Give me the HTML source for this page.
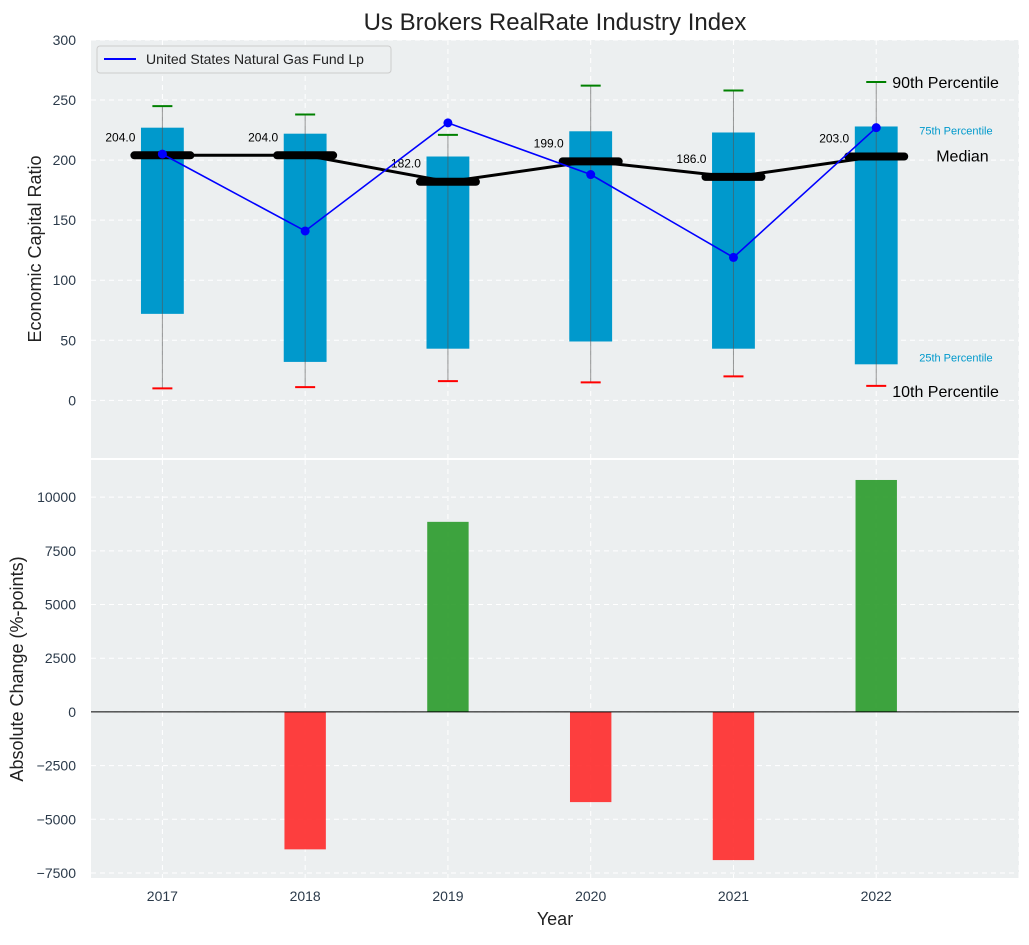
<!DOCTYPE html>
<html><head><meta charset="utf-8"><style>
body{margin:0;background:#fff;font-family:"Liberation Sans",sans-serif}
</style></head><body>
<svg id="c" width="1029" height="940" xmlns="http://www.w3.org/2000/svg" font-family="Liberation Sans, sans-serif"></svg>
<script>
const years=[2017,2018,2019,2020,2021,2022];
const p10=[10,11,16,15,20,12];
const p25=[72,32,43,49,43,30];
const median=[204,204,182,199,186,203];
const p75=[227,222,203,224,223,228];
const p90=[245,238,221,262,258,265];
const fund=[205,141,231,188,119,227];
const change=[0,-6400,8850,-4200,-6900,10800];
const yTicksTop=[0,50,100,150,200,250,300];
const yTicksBot=[-7500,-5000,-2500,0,2500,5000,7500,10000];

const L=91,R=1019;
const X=v=>L+(v-2016.5)/(2023.0-2016.5)*(R-L);
const T0=40,T1=458,Yt=v=>T0+(300-v)/(300-(-48))*(T1-T0);
const B0=460,B1=878,Yb=v=>B0+(11730-v)/(11730-(-7734))*(B1-B0);
const svg=document.getElementById('c');const NS='http://www.w3.org/2000/svg';
function mk(tag,a,parent){const e=document.createElementNS(NS,tag);for(const k in a)e.setAttribute(k,a[k]);(parent||svg).appendChild(e);return e;}
function tx(s,a){const e=mk('text',a);e.textContent=s;return e;}

let e=mk('rect',{x:L,y:T0,width:R-L,height:T1-T0,fill:'#eceff0'});


e=mk('rect',{x:L,y:B0,width:R-L,height:B1-B0,fill:'#eceff0'});


const g={stroke:'#fff','stroke-dasharray':'5,4','stroke-width':1};
years.concat([2023]).forEach(y=>{mk('line',Object.assign({x1:X(y),x2:X(y),y1:T0,y2:T1},g));mk('line',Object.assign({x1:X(y),x2:X(y),y1:B0,y2:B1},g));});
yTicksTop.forEach(v=>{mk('line',Object.assign({x1:L,x2:R,y1:Yt(v),y2:Yt(v)},g));
 e=tx(v,{x:L-15,y:Yt(v)+5,'text-anchor':'end','font-size':14,fill:'#2b3a4a'});
 
 });
yTicksBot.forEach(v=>{mk('line',Object.assign({x1:L,x2:R,y1:Yb(v),y2:Yb(v)},g));
 e=tx(v===0?'0':(v<0?'−'+(-v):v),{x:L-15,y:Yb(v)+5,'text-anchor':'end','font-size':14,fill:'#2b3a4a'});
 
 });
years.forEach(y=>{e=tx(y,{x:X(y),y:B1+23,'text-anchor':'middle','font-size':14,fill:'#2b3a4a'});
 
 });

const hw=0.15*(X(1)-X(0));
years.forEach((y,i)=>{
 const cx=X(y);
 e=mk('rect',{x:cx-hw,y:Yt(p75[i]),width:2*hw,height:Yt(p25[i])-Yt(p75[i]),fill:'#0099cc'});
 
 
 mk('line',{x1:cx,x2:cx,y1:Yt(p90[i]),y2:Yt(p10[i]),stroke:'#555',opacity:0.6,'stroke-width':1});
 mk('line',{x1:cx-10,x2:cx+10,y1:Yt(p90[i]),y2:Yt(p90[i]),stroke:'green','stroke-width':2});
 mk('line',{x1:cx-10,x2:cx+10,y1:Yt(p10[i]),y2:Yt(p10[i]),stroke:'red','stroke-width':2});
});
e=mk('polyline',{points:years.map((y,i)=>X(y)+','+Yt(median[i])).join(' '),fill:'none',stroke:'#000','stroke-width':3});


years.forEach((y,i)=>{
 e=mk('line',{x1:X(y)-28,x2:X(y)+28,y1:Yt(median[i]),y2:Yt(median[i]),stroke:'#000','stroke-width':8,'stroke-linecap':'round'});
 
 
 e=tx(median[i].toFixed(1),{x:X(y)-27,y:Yt(median[i])-14,'text-anchor':'end','font-size':12,fill:'#000'});
 
 
});
e=mk('polyline',{points:years.map((y,i)=>X(y)+','+Yt(fund[i])).join(' '),fill:'none',stroke:'blue','stroke-width':1.6});


years.forEach((y,i)=>{e=mk('circle',{cx:X(y),cy:Yt(fund[i]),r:4.5,fill:'blue'});
 
 });
const ax=X(2022)+16;
[['90th Percentile',Yt(p90[5])+6,16,'#000',ax],['75th Percentile',Yt(p75[5])+8,11,'#0099cc',ax+27],['Median',Yt(median[5])+5,16,'#000',ax+44],['25th Percentile',Yt(p25[5])-3,11,'#0099cc',ax+27],['10th Percentile',Yt(p10[5])+11,16,'#000',ax]].forEach(a=>{
 e=tx(a[0],{x:a[4],y:a[1],'font-size':a[2],fill:a[3]});
 
 });
const lg=mk('g',{});


mk('rect',{x:97,y:46,width:294,height:27,rx:3,fill:'#eceff0',stroke:'#ccc'},lg);
mk('line',{x1:104,x2:136,y1:59,y2:59,stroke:'blue','stroke-width':2},lg);
const lt=mk('text',{x:146,y:64,'font-size':14,fill:'#222'},lg);lt.textContent='United States Natural Gas Fund Lp';

const bw=0.29*(X(1)-X(0))/2;
years.forEach((y,i)=>{const v=change[i];if(v===0)return;
 e=mk('rect',{x:X(y)-bw,y:Math.min(Yb(v),Yb(0)),width:2*bw,height:Math.abs(Yb(v)-Yb(0)),fill:v>0?'#2a9a2a':'#ff2a2a',opacity:0.9});
 
 });
mk('line',{x1:L,x2:R,y1:Yb(0),y2:Yb(0),stroke:'#000','stroke-width':1});

e=tx('Us Brokers RealRate Industry Index',{x:555,y:30,'text-anchor':'middle','font-size':24,fill:'#222'});


e=tx('Economic Capital Ratio',{x:41,y:249,'text-anchor':'middle','font-size':18,fill:'#222',transform:'rotate(-90 41 249)'});


e=tx('Absolute Change (%-points)',{x:23,y:669,'text-anchor':'middle','font-size':18,fill:'#222',transform:'rotate(-90 23 669)'});


e=tx('Year',{x:555,y:925,'text-anchor':'middle','font-size':18,fill:'#222'});


</script>
</body></html>
